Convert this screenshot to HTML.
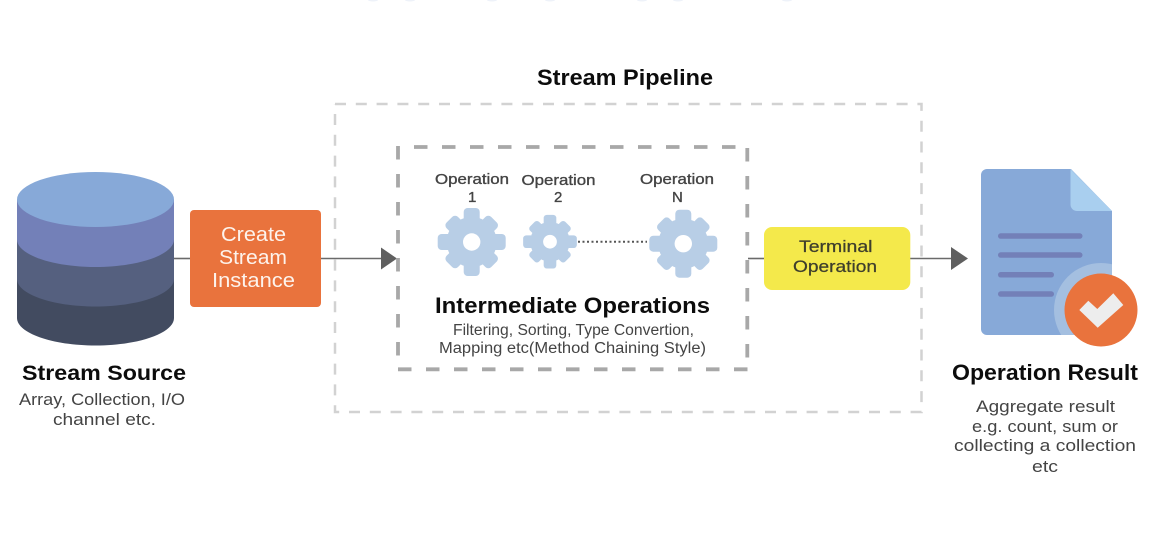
<!DOCTYPE html>
<html>
<head>
<meta charset="utf-8">
<style>
html,body{margin:0;padding:0;background:#fff;width:1164px;height:536px;overflow:hidden}
svg{display:block}
text{font-family:"Liberation Sans",sans-serif;text-anchor:start}
.h{font-weight:bold;fill:#0c0c0c}
.s{fill:#444}
.o{fill:#444;stroke:#444;stroke-width:.35}
.w{fill:#fdf3ec}
.t{fill:#3e3e2c;stroke:#3e3e2c;stroke-width:.25}
</style>
</head>
<body>
<svg width="1164" height="536" viewBox="0 0 1164 536" xmlns="http://www.w3.org/2000/svg">
<defs>
<g id="gear" fill="#b8cee6">
  <circle r="25"/>
  <rect x="-8" y="-34" width="16" height="68" rx="4"/>
  <rect x="-34" y="-8" width="68" height="16" rx="4"/>
  <rect x="-8" y="-31.500" width="16" height="63" rx="4" transform="rotate(45)"/>
  <rect x="-8" y="-31.500" width="16" height="63" rx="4" transform="rotate(135)"/>
  <circle r="8.700" fill="#fff"/>
</g>
<clipPath id="doc"><path d="M987 169H1071L1112 211V329a6 6 0 0 1-6 6H987a6 6 0 0 1-6-6V175a6 6 0 0 1 6-6z"/></clipPath>
</defs>

<!-- faint marks along the top edge -->
<g fill="#eef2f9">
  <ellipse cx="373" cy="0" rx="5" ry="1.500"/>
  <ellipse cx="410" cy="0" rx="5" ry="1.500"/>
  <ellipse cx="492" cy="0" rx="5" ry="1.500"/>
  <ellipse cx="550" cy="0" rx="5" ry="1.500"/>
  <ellipse cx="642" cy="0" rx="5" ry="1.500"/>
  <ellipse cx="678" cy="0" rx="5" ry="1.500"/>
  <ellipse cx="787" cy="0" rx="5" ry="1.500"/>
</g>

<!-- outer dashed pipeline -->
<path d="M335 104H921.500V412H335V104" fill="none" stroke="#d2d2d2" stroke-width="2.500" stroke-dasharray="11 9.800"/>
<text class="h" x="537" y="85" font-size="22" textLength="176" lengthAdjust="spacingAndGlyphs">Stream Pipeline</text>

<!-- connectors -->
<line x1="174" y1="258.500" x2="190" y2="258.500" stroke="#6a6a6a" stroke-width="1.600"/>
<line x1="321" y1="258.500" x2="382" y2="258.500" stroke="#6a6a6a" stroke-width="1.600"/>
<path d="M381 247.500L397 258.500L381 269.500z" fill="#5f5f5f"/>
<line x1="748" y1="258.500" x2="764" y2="258.500" stroke="#6a6a6a" stroke-width="1.600"/>
<line x1="910" y1="258.500" x2="952" y2="258.500" stroke="#6a6a6a" stroke-width="1.600"/>
<path d="M951 247L968 258.500L951 270z" fill="#5f5f5f"/>

<!-- cylinder -->
<path d="M17 199.500V318c0 15 35 27.500 78.500 27.500S174 333 174 318V199.500z" fill="#424b60"/>
<path d="M17 199.500V279c0 15 35 27.500 78.500 27.500S174 294 174 279V199.500z" fill="#55607f"/>
<path d="M17 199.500V239.500c0 15 35 27.500 78.500 27.500S174 254.500 174 239.500V199.500z" fill="#7380b8"/>
<ellipse cx="95.500" cy="199.500" rx="78.500" ry="27.500" fill="#87a9d8"/>
<text class="h" x="22" y="380" font-size="21" textLength="164" lengthAdjust="spacingAndGlyphs">Stream Source</text>
<text class="s" x="19" y="405" font-size="17" textLength="166" lengthAdjust="spacingAndGlyphs">Array, Collection, I/O</text>
<text class="s" x="53" y="425" font-size="17" textLength="103" lengthAdjust="spacingAndGlyphs">channel etc.</text>

<!-- create stream instance -->
<rect x="190" y="210" width="131" height="97" rx="4" fill="#e9733d"/>
<text class="w" x="221" y="241" font-size="20" textLength="65" lengthAdjust="spacingAndGlyphs">Create</text>
<text class="w" x="219" y="264" font-size="20" textLength="68" lengthAdjust="spacingAndGlyphs">Stream</text>
<text class="w" x="212" y="287" font-size="20" textLength="83" lengthAdjust="spacingAndGlyphs">Instance</text>

<!-- inner dashed -->
<g fill="none" stroke="#a8a8a8" stroke-width="3.800" stroke-dasharray="13.500 14.500">
  <line x1="414" y1="147" x2="736" y2="147"/>
  <line x1="398" y1="369.300" x2="748" y2="369.300"/>
  <line x1="398" y1="146" x2="398" y2="358"/>
  <line x1="747.300" y1="148" x2="747.300" y2="358"/>
</g>

<text class="o" x="435" y="184" font-size="15" textLength="74" lengthAdjust="spacingAndGlyphs">Operation</text>
<text class="o" x="468" y="202" font-size="15">1</text>
<text class="o" x="521.500" y="185" font-size="15" textLength="74" lengthAdjust="spacingAndGlyphs">Operation</text>
<text class="o" x="554" y="202" font-size="15">2</text>
<text class="o" x="640" y="184" font-size="15" textLength="74" lengthAdjust="spacingAndGlyphs">Operation</text>
<text class="o" x="672" y="202" font-size="15">N</text>

<use href="#gear" transform="translate(471.700 242)"/>
<use href="#gear" transform="translate(550 241.700) scale(0.79)"/>
<use href="#gear" transform="translate(683.300 243.700)"/>
<line x1="578" y1="241.700" x2="647" y2="241.700" stroke="#555" stroke-width="2" stroke-dasharray="2 2.500"/>

<text class="h" x="435" y="313" font-size="22" textLength="275" lengthAdjust="spacingAndGlyphs">Intermediate Operations</text>
<text class="s" x="453" y="335" font-size="15.500" textLength="241" lengthAdjust="spacingAndGlyphs">Filtering, Sorting, Type Convertion,</text>
<text class="s" x="439" y="353" font-size="15.500" textLength="267" lengthAdjust="spacingAndGlyphs">Mapping etc(Method Chaining Style)</text>

<!-- terminal -->
<rect x="764" y="227" width="146.300" height="63" rx="8" fill="#f4e94b"/>
<text class="t" x="799" y="252" font-size="17" textLength="73.500" lengthAdjust="spacingAndGlyphs">Terminal</text>
<text class="t" x="793" y="272" font-size="17" textLength="84" lengthAdjust="spacingAndGlyphs">Operation</text>

<!-- document -->
<path d="M987 169H1071L1112 211V329a6 6 0 0 1-6 6H987a6 6 0 0 1-6-6V175a6 6 0 0 1 6-6z" fill="#87a9d8"/>
<path d="M1070.500 169L1112 211H1077a6.500 6.500 0 0 1-6.500-6.500z" fill="#a9cfef"/>
<g fill="#7380b8">
  <rect x="998" y="233.300" width="84.500" height="5.500" rx="2.700"/>
  <rect x="998" y="252.300" width="84.500" height="5.500" rx="2.700"/>
  <rect x="998" y="272" width="56" height="5.500" rx="2.700"/>
  <rect x="998" y="291.300" width="56" height="5.500" rx="2.700"/>
</g>
<circle cx="1101" cy="310" r="47" fill="#a4bfe0" clip-path="url(#doc)"/>
<circle cx="1101" cy="310" r="36.500" fill="#e9733d"/>
<path d="M1079.300 310L1088.300 300.700L1097.300 309L1113.300 293.300L1123.300 305L1097.700 327.700z" fill="#ededed"/>

<text class="h" x="952" y="380" font-size="22" textLength="186" lengthAdjust="spacingAndGlyphs">Operation Result</text>
<text class="s" x="976" y="412" font-size="17" textLength="139" lengthAdjust="spacingAndGlyphs">Aggregate result</text>
<text class="s" x="972" y="432" font-size="17" textLength="146" lengthAdjust="spacingAndGlyphs">e.g. count, sum or</text>
<text class="s" x="954" y="451" font-size="17" textLength="182" lengthAdjust="spacingAndGlyphs">collecting a collection</text>
<text class="s" x="1032" y="472" font-size="17" textLength="26" lengthAdjust="spacingAndGlyphs">etc</text>
</svg>
</body>
</html>
